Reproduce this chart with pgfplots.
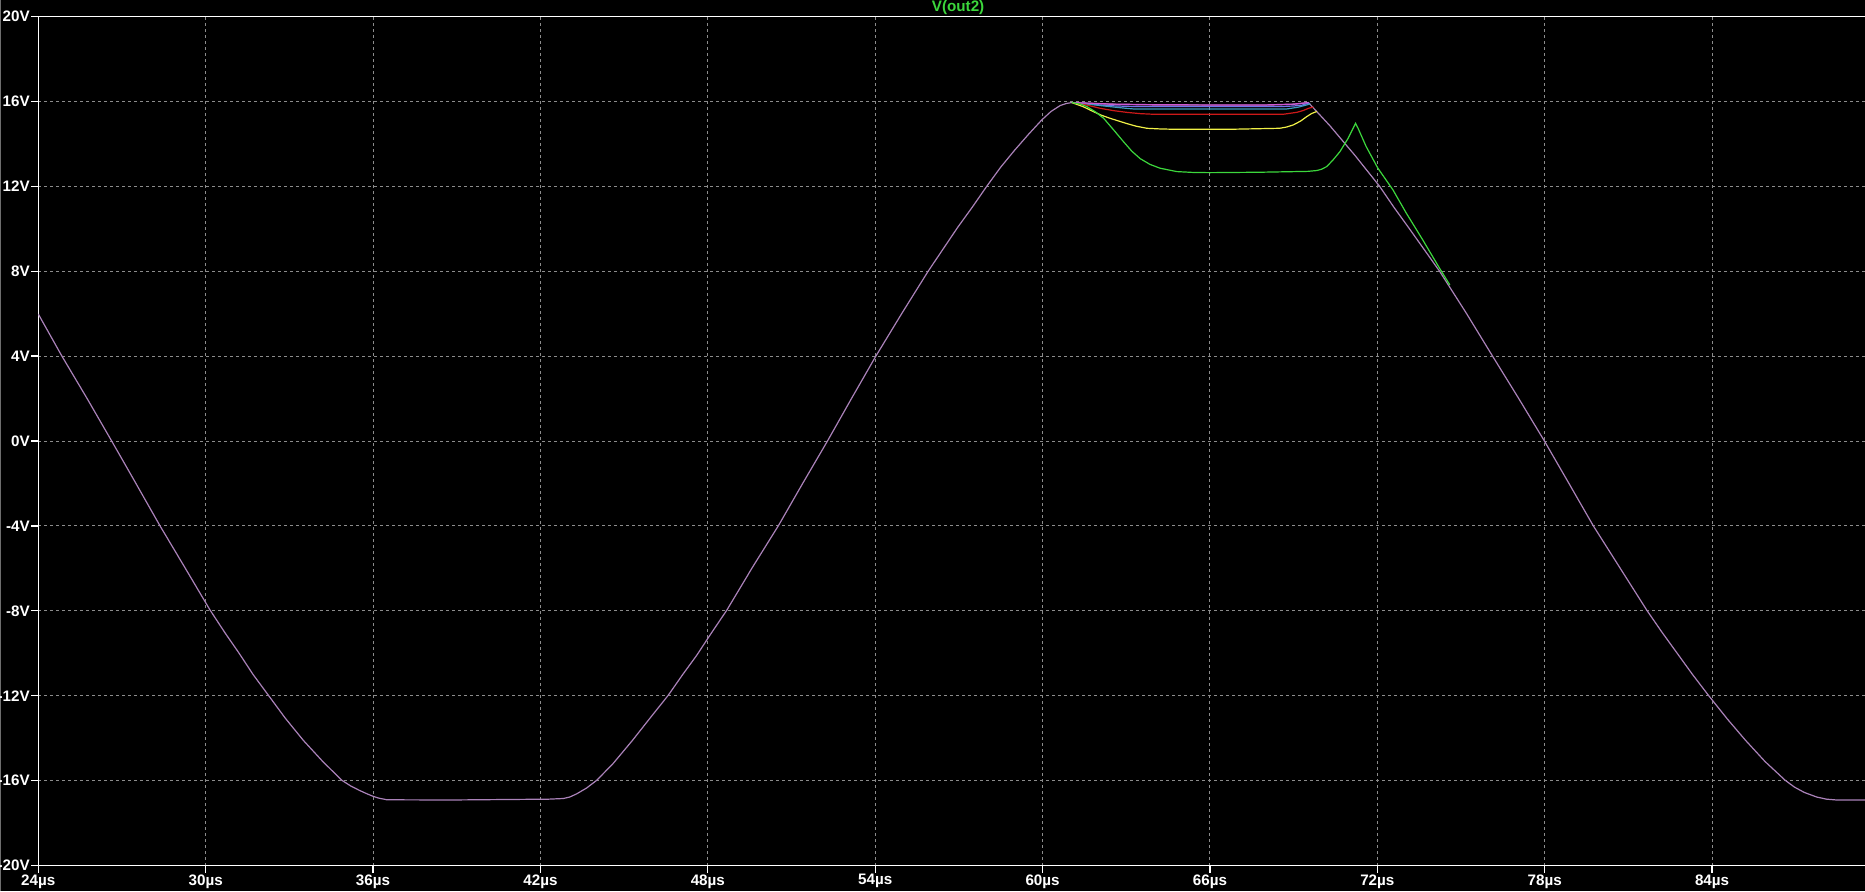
\documentclass[border=0pt]{standalone}
\usepackage{fontspec}
\setmainfont{Liberation Sans}
\usepackage{pgfplots}
\pgfplotsset{compat=1.18}
\definecolor{trgreen}{RGB}{60,215,60}
\definecolor{tryellow}{RGB}{240,240,70}
\definecolor{trred}{RGB}{205,25,25}
\definecolor{trcyan}{RGB}{60,155,190}
\definecolor{trblue}{RGB}{115,115,235}
\definecolor{trmag}{RGB}{205,85,210}
\definecolor{trmain}{RGB}{170,130,185}
\definecolor{gridgray}{RGB}{140,140,140}
\definecolor{edgegray}{RGB}{110,110,110}
\begin{document}
\begin{tikzpicture}
\useasboundingbox (0pt,0pt) rectangle (932.5pt,445.5pt);
\fill[black] (0pt,0pt) rectangle (932.5pt,445.5pt);
\draw[edgegray, line width=0.6pt] (0.3pt,0pt) -- (0.3pt,445.5pt);
\begin{axis}[
  at={(19.15pt,12.7pt)}, anchor=south west,
  scale only axis, width=914.3pt, height=424.6pt,
  xmin=24, xmax=89.55, ymin=-20, ymax=20,
  xtick={24,30,36,42,48,54,60,66,72,78,84},
  xticklabels={24µs,30µs,36µs,42µs,48µs,54µs,60µs,66µs,72µs,78µs,84µs},
  ytick={-20,-16,-12,-8,-4,0,4,8,12,16,20},
  yticklabels={-20V,-16V,-12V,-8V,-4V,0V,4V,8V,12V,16V,20V},
  axis line style={white, line width=0.7pt},
  tick align=outside, major tick length=3.6pt,
  tick style={white, line width=0.6pt},
  tick pos=left,
  grid=major,
  major grid style={dash pattern=on 1.5pt off 1.5pt, gridgray, line width=0.5pt},
  xticklabel style={text=white, font=\bfseries\fontsize{7.6}{8}\selectfont, inner sep=0.6pt},
  yticklabel style={text=white, font=\bfseries\fontsize{7.6}{8}\selectfont, inner sep=0.5pt},
  every axis title shift=0pt,
  title={V(out2)},
  title style={at={(0.503,1)}, anchor=center, yshift=4.3pt, inner sep=0pt, text=trgreen, font=\bfseries\fontsize{7.6}{8}\selectfont},
  every axis plot/.append style={line width=0.6pt, no markers},
  clip=true,
]
% common waveform (all steps overlap)
\addplot[trmain] table {
x y
24.0 5.98
24.85 3.99
25.75 2.0
26.63 0.0
27.5 -2.0
28.36 -3.99
29.25 -5.95
30.16 -7.97
30.7 -9.05
31.2 -10.0
31.7 -11.0
32.25 -11.98
32.85 -13.05
33.5 -14.1
34.2 -15.1
34.88 -15.98
35.2 -16.25
35.5 -16.45
35.75 -16.6
35.97 -16.72
36.2 -16.82
36.5 -16.9
38.76 -16.91
40.5 -16.89
42.3 -16.87
42.82 -16.84
43.05 -16.77
43.3 -16.62
43.65 -16.35
44.02 -15.98
44.6 -15.2
45.3 -14.1
45.9 -13.1
46.58 -11.98
47.1 -11.0
47.6 -10.1
48.1 -9.1
48.68 -7.97
49.6 -5.95
50.53 -3.99
51.4 -2.0
52.29 0.0
53.15 2.0
54.02 3.99
54.95 6.0
55.9 8.0
56.95 10.05
57.5 11.05
58.0 12.0
58.5 12.9
59.0 13.7
59.5 14.45
59.97 15.12
60.3 15.52
60.63 15.8
60.85 15.9
61.05 15.94
61.5 15.92
62.5 15.86
64.0 15.83
66.0 15.82
68.0 15.82
69.0 15.86
69.53 15.94
70.3 14.85
71.2 13.45
72.08 12.0
72.6 11.0
73.15 10.0
74.23 8.0
75.2 6.0
76.13 4.0
77.07 2.0
77.99 0.0
78.87 -2.0
79.74 -3.99
80.7 -5.98
81.66 -7.97
82.2 -9.0
82.75 -10.0
83.3 -11.0
83.87 -11.98
84.55 -13.1
85.2 -14.1
85.9 -15.1
86.62 -15.98
86.95 -16.3
87.3 -16.55
87.75 -16.77
88.1 -16.87
88.47 -16.91
89.55 -16.91
};
% blue step
\addplot[trblue] table {
x y
61.2 15.93
61.8 15.86
62.3 15.80
62.9 15.77
63.5 15.75
68.5 15.75
69.0 15.78
69.3 15.82
69.55 15.92
};
% cyan step
\addplot[trcyan] table {
x y
61.2 15.92
61.8 15.84
62.42 15.75
62.85 15.69
63.26 15.64
68.75 15.64
69.15 15.72
69.47 15.83
69.6 15.88
};
% red step
\addplot[trred] table {
x y
61.2 15.92
61.6 15.82
62.07 15.67
62.55 15.56
63.02 15.48
63.5 15.42
63.98 15.39
68.63 15.39
69.11 15.48
69.35 15.57
69.53 15.67
69.71 15.73
};
% magenta step (top)
\addplot[trmag] table {
x y
61.1 15.94
62.5 15.87
64.0 15.84
66.0 15.83
68.0 15.83
69.0 15.87
69.53 15.94
};
% yellow step
\addplot[tryellow] table {
x y
61.05 15.94
61.45 15.75
61.83 15.51
62.1 15.35
62.42 15.2
63.0 14.96
63.35 14.83
63.74 14.73
64.2 14.7
64.81 14.68
66.6 14.68
68.5 14.73
68.75 14.79
68.99 14.89
69.25 15.07
69.47 15.28
69.65 15.43
69.83 15.52
};
% green step
\addplot[trgreen] table {
x y
61.05 15.94
61.35 15.87
61.59 15.75
61.9 15.5
62.19 15.2
62.55 14.65
62.9 14.1
63.2 13.65
63.5 13.3
63.85 13.03
64.21 12.85
64.81 12.69
65.4 12.65
66.0 12.64
67.8 12.66
69.5 12.70
69.83 12.74
70.0 12.8
70.19 12.93
70.42 13.25
70.66 13.63
70.95 14.25
71.22 14.96
71.31 14.73
71.6 13.87
72.02 12.85
72.56 11.83
73.04 10.73
73.63 9.47
74.23 8.14
74.6 7.35
};
\end{axis}
\end{tikzpicture}
\end{document}
